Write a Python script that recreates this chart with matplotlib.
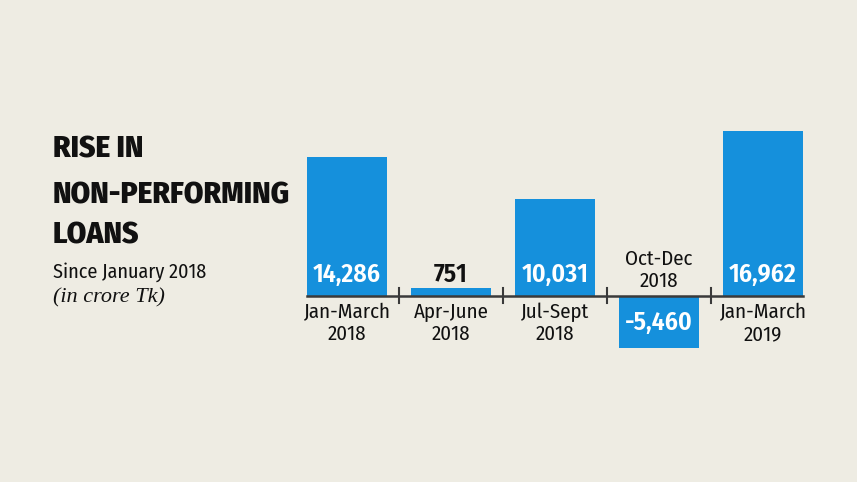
import matplotlib
matplotlib.use('Agg')
import matplotlib.pyplot as plt

# data
periods = ['Jan-March\n2018', 'Apr-June\n2018', 'Jul-Sept\n2018', 'Oct-Dec\n2018', 'Jan-March\n2019']
values = [14286, 751, 10031, -5460, 16962]
value_labels = ['14,286', '751', '10,031', '-5,460', '16,962']

bg = '#eeece3'
blue = '#1590dc'
ink = '#111111'

plt.rcParams['font.family'] = ['Fira Sans Condensed', 'Archivo Narrow', 'DejaVu Sans']
plt.rcParams['font.stretch'] = 'condensed'

fig = plt.figure(figsize=(8.57, 4.82), dpi=100)
fig.patch.set_facecolor(bg)

ax = fig.add_axes([290 / 857, 1 - 380 / 482, 530 / 857, 280 / 482])
ax.set_facecolor(bg)
ax.set_xlim(-0.548, 4.548)
ax.set_ylim(-8719, 20207)
ax.axis('off')

x = range(len(values))
ax.bar(x, values, width=0.77, color=blue, zorder=2)

# baseline + little ticks between bars
ax.plot([-0.385, 4.385], [0, 0], color='#3a3a3a', lw=1.8, zorder=3)
for t in [0.5, 1.5, 2.5, 3.5]:
    ax.plot([t, t], [-780, 780], color='#3a3a3a', lw=1.5, zorder=3)

for i, (v, lab, per) in enumerate(zip(values, value_labels, periods)):
    if v >= 0:
        col = 'white' if v > 3000 else ink
        ax.annotate(lab, xy=(i, 0), xytext=(0, 14), textcoords='offset pixels',
                    ha='center', va='baseline', color=col, fontsize=18.5,
                    fontweight='semibold', zorder=4)
        ax.annotate(per, xy=(i, 0), xytext=(0, -7), textcoords='offset pixels',
                    ha='center', va='top', color=ink, fontsize=15,
                    linespacing=1.15, zorder=4)
    else:
        ax.annotate(lab, xy=(i, 0), xytext=(0, -34), textcoords='offset pixels',
                    ha='center', va='baseline', color='white', fontsize=18.5,
                    fontweight='semibold', zorder=4)
        ax.annotate(per, xy=(i, 0), xytext=(0, 5), textcoords='offset pixels',
                    ha='center', va='bottom', color=ink, fontsize=15,
                    linespacing=1.15, zorder=4)

# title block
for yy, line in [(158, 'RISE IN'), (203, 'NON-PERFORMING'), (244, 'LOANS')]:
    fig.text(53 / 857, 1 - yy / 482, line, fontsize=22.5, fontweight='heavy',
             va='baseline', ha='left', color=ink)
fig.text(53 / 857, 1 - 278 / 482, 'Since January 2018', fontsize=14.5,
         va='baseline', ha='left', color=ink)
fig.text(53 / 857, 1 - 302 / 482, '(in crore Tk)', fontsize=16, style='italic',
         family=['Liberation Serif', 'DejaVu Serif'], stretch='normal',
         va='baseline', ha='left', color=ink)

fig.savefig('out.png', dpi=100, facecolor=bg)
